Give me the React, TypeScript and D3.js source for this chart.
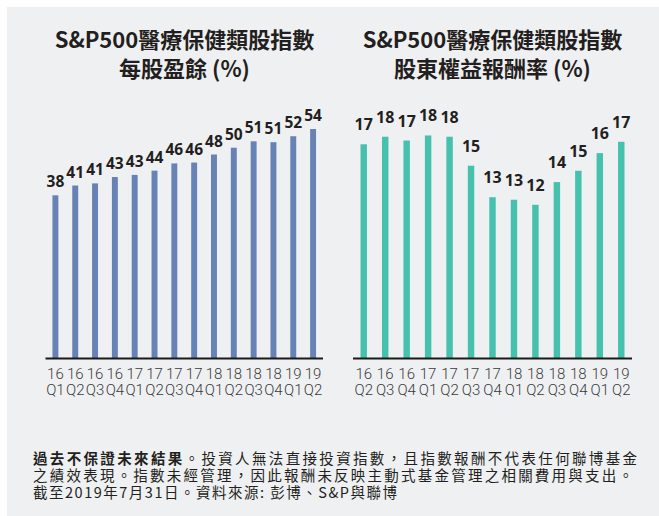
import React from "react";
import * as d3 from "d3";

const epsCategories = ["16 Q1","16 Q2","16 Q3","16 Q4","17 Q1","17 Q2","17 Q3","17 Q4","18 Q1","18 Q2","18 Q3","18 Q4","19 Q1","19 Q2"];
const epsValues = [38.4, 40.7, 41.2, 42.7, 43.2, 44.2, 45.9, 46.1, 48.0, 49.6, 51.1, 50.9, 52.3, 54.0];

const roeCategories = ["16 Q2","16 Q3","16 Q4","17 Q1","17 Q2","17 Q3","17 Q4","18 Q1","18 Q2","18 Q3","18 Q4","19 Q1","19 Q2"];
const roeValues = [17.0, 17.6, 17.3, 17.7, 17.6, 15.3, 12.8, 12.6, 12.2, 14.0, 14.9, 16.3, 17.2];

const leftTitle = ["S&P500醫療保健類股指數", "每股盈餘 (%)"];
const rightTitle = ["S&P500醫療保健類股指數", "股東權益報酬率 (%)"];

const footerBold = "過去不保證未來結果";
const footerLine1 = "。投資人無法直接投資指數，且指數報酬不代表任何聯博基金";
const footerLine2 = "之績效表現。指數未經管理，因此報酬未反映主動式基金管理之相關費用與支出。";
const footerLine3 = "截至2019年7月31日。資料來源: 彭博、S&P與聯博";

const TEXT = "#231f20";
const CJK = "'Noto Sans CJK TC', 'Noto Sans', sans-serif";

type PanelProps = {
  cats: string[];
  vals: number[];
  x0: number;
  x1: number;
  perUnit: number;
  color: string;
  title: string[];
  titleX: number;
  labelOffset: number;
  labelSize: number;
};

function Panel({ cats, vals, x0, x1, perUnit, color, title, titleX, labelOffset, labelSize }: PanelProps) {
  const base = 358.5;
  const x = d3.scaleBand<string>().domain(cats).range([x0, x1]).paddingInner(0.7).paddingOuter(0.35);
  const y = d3.scaleLinear().domain([0, 20]).range([base, base - 20 * perUnit]);
  return (
    <g>
      {title.map((t, i) => (
        <text key={i} x={titleX} y={48 + i * 28.5} textAnchor="middle" fontFamily={CJK} fontWeight={700} fontSize={22} fill={TEXT}>
          {t}
        </text>
      ))}
      {cats.map((c, i) => (
        <rect key={c} x={x(c)!} y={y(vals[i])} width={x.bandwidth()} height={base - y(vals[i])} fill={color} />
      ))}
      {cats.map((c, i) => (
        <text key={"l" + c} x={x(c)! + x.bandwidth() / 2} y={y(vals[i]) - labelOffset} textAnchor="middle"
          fontFamily="'Open Sans', sans-serif" fontWeight={700} fontSize={labelSize} fill={TEXT}>
          {d3.format(".0f")(vals[i])}
        </text>
      ))}
      <line x1={x0} x2={x1} y1={base} y2={base} stroke="#1a1a1a" strokeWidth={2} />
      {cats.map((c) => {
        const [yr, q] = c.split(" ");
        const cx = x(c)! + x.bandwidth() / 2;
        return (
          <g key={"t" + c} fontFamily="Roboto, sans-serif" fontWeight={300} fontSize={15} fill="#3a3a3a" textAnchor="middle">
            <text x={cx} y={379}>{yr}</text>
            <text x={cx} y={394.5}>{q}</text>
          </g>
        );
      })}
    </g>
  );
}

export default function App() {
  return (
    <svg width={659} height={516} style={{ position: "absolute", left: 0, top: 0 }}>
      <rect x={0} y={0} width={659} height={516} fill="#ffffff" />
      <rect x={7} y={7} width={652} height={509} fill="#eff0f2" />
      <Panel cats={epsCategories} vals={epsValues} x0={45.5} x1={323} perUnit={4.25} color="#6783b5"
        title={leftTitle} titleX={184.5} labelOffset={8} labelSize={15.5} />
      <Panel cats={roeCategories} vals={roeValues} x0={353} x1={632} perUnit={12.6} color="#45c1ad"
        title={rightTitle} titleX={492.5} labelOffset={14} labelSize={16} />
      <g fontFamily={CJK} fontSize={14.5} fill={TEXT}>
        <text x={33} y={464} textLength={604} lengthAdjust="spacing">
          <tspan fontWeight={700}>{footerBold}</tspan>
          <tspan>{footerLine1}</tspan>
        </text>
        <text x={33} y={481} textLength={600} lengthAdjust="spacing">{footerLine2}</text>
        <text x={33} y={498} textLength={364} lengthAdjust="spacing">{footerLine3}</text>
      </g>
    </svg>
  );
}
